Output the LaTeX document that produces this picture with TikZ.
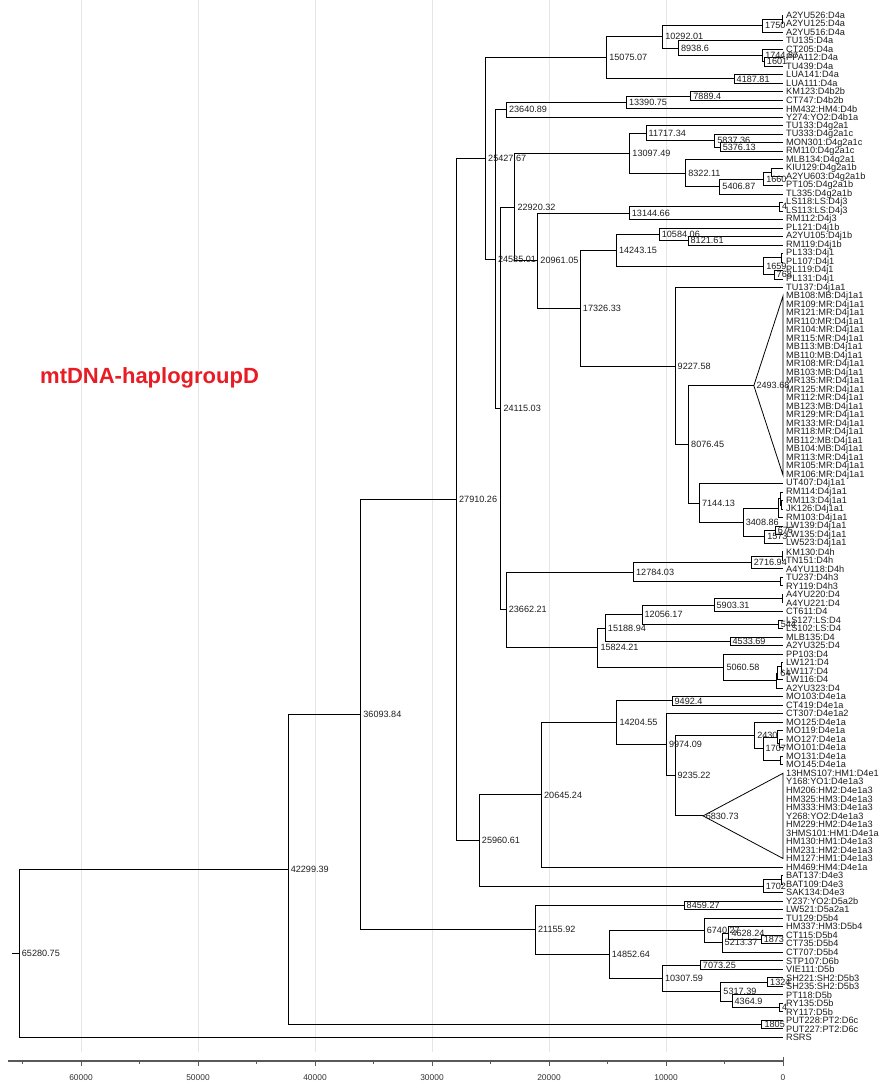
\documentclass[tikz,border=0pt]{standalone}
\usepackage{fontspec}
\setmainfont{Liberation Sans}
\usetikzlibrary{calc}
\definecolor{titlered}{RGB}{232,28,36}
\definecolor{txt}{RGB}{30,30,30}
\tikzset{
  br/.style={draw=black,line width=0.8pt},
  lab/.style={anchor=west,inner sep=1pt,xshift=1.5pt,font=\fontsize{9.1}{9}\selectfont,text=txt},
  leaf/.style={anchor=west,inner sep=1pt,xshift=2pt,font=\fontsize{9.2}{9}\selectfont,text=txt},
  grid/.style={draw=black!10,line width=0.6pt},
  axis/.style={draw=black!65,line width=1.4pt},
  tick/.style={draw=black!65,line width=0.8pt},
  ticklab/.style={font=\fontsize{8.4}{8}\selectfont,text=black!80,inner sep=0pt}
}
% ages are given in thousands
\newcommand\tnd[5]{%
  \path let \p1=(#3), \p2=(#4) in coordinate (#1) at ({783pt-11.7pt*#2},{0.5*\y1+0.5*\y2});
  \draw[br] (#3) -| (#1) |- (#4);
  \node[lab] (#1l) at (#1) {#5};
}
\newcommand\trix[5]{%
  \path let \p1=(#3), \p2=(#4) in coordinate (#1) at ({783pt-11.7pt*#2},{0.5*\y1+0.5*\y2});
  \draw[br] (#1) -- (#3) -- (#4) -- cycle;
  \node[lab] (#1l) at (#1) {#5};
}
\newcommand\lfx[2]{%
  \coordinate (L#1) at (783pt,{-15pt-8.52pt*(#1-1)});
  \node[leaf] (T#1) at (L#1) {#2};
}
\begin{document}
\begin{tikzpicture}
\fill[white] (0pt,0pt) rectangle (883pt,-1089pt);
\useasboundingbox (0pt,0pt) rectangle (883pt,-1089pt);
% grid lines
\foreach \a in {10,20,30,40,50,60}{
  \draw[grid] ({783pt-11.7pt*\a},0pt) -- ({783pt-11.7pt*\a},-1052pt);
}
% axis
\coordinate (ax0) at (783pt,-1061pt);
\coordinate (ax1) at (8pt,-1061pt);
\draw[axis] (ax1) -- (ax0);
\foreach \a/\t in {0/0,10/10000,20/20000,30/30000,40/40000,50/50000,60/60000}{
  \draw[tick] ({783pt-11.7pt*\a},-1061pt) -- ++(0pt,-5pt);
  \node[ticklab] at ({783pt-11.7pt*\a},-1078pt) {\t};
}
\foreach \a in {5,15,25,35,45,55,65}{
  \draw[tick] ({783pt-11.7pt*\a},-1061pt) -- ++(0pt,-3pt);
}
\draw[tick] (ax0) -- ++(0pt,4pt);
% title
\node[anchor=west,inner sep=0pt,text=titlered,font=\fontsize{22}{24}\selectfont\bfseries] (title) at (40pt,-378pt) {mtDNA-haplogroupD};
% leaves
\lfx{1}{A2YU526:D4a}
\lfx{2}{A2YU125:D4a}
\lfx{3}{A2YU516:D4a}
\lfx{4}{TU135:D4a}
\lfx{5}{CT205:D4a}
\lfx{6}{PPA112:D4a}
\lfx{7}{TU439:D4a}
\lfx{8}{LUA141:D4a}
\lfx{9}{LUA111:D4a}
\lfx{10}{KM123:D4b2b}
\lfx{11}{CT747:D4b2b}
\lfx{12}{HM432:HM4:D4b}
\lfx{13}{Y274:YO2:D4b1a}
\lfx{14}{TU133:D4g2a1}
\lfx{15}{TU333:D4g2a1c}
\lfx{16}{MON301:D4g2a1c}
\lfx{17}{RM110:D4g2a1c}
\lfx{18}{MLB134:D4g2a1}
\lfx{19}{KIU129:D4g2a1b}
\lfx{20}{A2YU603:D4g2a1b}
\lfx{21}{PT105:D4g2a1b}
\lfx{22}{TL335:D4g2a1b}
\lfx{23}{LS118:LS:D4j3}
\lfx{24}{LS113:LS:D4j3}
\lfx{25}{RM112:D4j3}
\lfx{26}{PL121:D4j1b}
\lfx{27}{A2YU105:D4j1b}
\lfx{28}{RM119:D4j1b}
\lfx{29}{PL133:D4j1}
\lfx{30}{PL107:D4j1}
\lfx{31}{PL119:D4j1}
\lfx{32}{PL131:D4j1}
\lfx{33}{TU137:D4j1a1}
\lfx{34}{MB108:MB:D4j1a1}
\lfx{35}{MR109:MR:D4j1a1}
\lfx{36}{MR121:MR:D4j1a1}
\lfx{37}{MR110:MR:D4j1a1}
\lfx{38}{MR104:MR:D4j1a1}
\lfx{39}{MR115:MR:D4j1a1}
\lfx{40}{MB113:MB:D4j1a1}
\lfx{41}{MB110:MB:D4j1a1}
\lfx{42}{MR108:MR:D4j1a1}
\lfx{43}{MB103:MB:D4j1a1}
\lfx{44}{MR135:MR:D4j1a1}
\lfx{45}{MR125:MR:D4j1a1}
\lfx{46}{MR112:MR:D4j1a1}
\lfx{47}{MB123:MB:D4j1a1}
\lfx{48}{MR129:MR:D4j1a1}
\lfx{49}{MR133:MR:D4j1a1}
\lfx{50}{MR118:MR:D4j1a1}
\lfx{51}{MB112:MB:D4j1a1}
\lfx{52}{MB104:MB:D4j1a1}
\lfx{53}{MR113:MR:D4j1a1}
\lfx{54}{MR105:MR:D4j1a1}
\lfx{55}{MR106:MR:D4j1a1}
\lfx{56}{UT407:D4j1a1}
\lfx{57}{RM114:D4j1a1}
\lfx{58}{RM113:D4j1a1}
\lfx{59}{JK126:D4j1a1}
\lfx{60}{RM103:D4j1a1}
\lfx{61}{LW139:D4j1a1}
\lfx{62}{LW135:D4j1a1}
\lfx{63}{LW523:D4j1a1}
\lfx{64}{KM130:D4h}
\lfx{65}{TN151:D4h}
\lfx{66}{A4YU118:D4h}
\lfx{67}{TU237:D4h3}
\lfx{68}{RY119:D4h3}
\lfx{69}{A4YU220:D4}
\lfx{70}{A4YU221:D4}
\lfx{71}{CT611:D4}
\lfx{72}{LS127:LS:D4}
\lfx{73}{LS102:LS:D4}
\lfx{74}{MLB135:D4}
\lfx{75}{A2YU325:D4}
\lfx{76}{PP103:D4}
\lfx{77}{LW121:D4}
\lfx{78}{LW117:D4}
\lfx{79}{LW116:D4}
\lfx{80}{A2YU323:D4}
\lfx{81}{MO103:D4e1a}
\lfx{82}{CT419:D4e1a}
\lfx{83}{CT307:D4e1a2}
\lfx{84}{MO125:D4e1a}
\lfx{85}{MO119:D4e1a}
\lfx{86}{MO127:D4e1a}
\lfx{87}{MO101:D4e1a}
\lfx{88}{MO131:D4e1a}
\lfx{89}{MO145:D4e1a}
\lfx{90}{13HMS107:HM1:D4e1}
\lfx{91}{Y168:YO1:D4e1a3}
\lfx{92}{HM206:HM2:D4e1a3}
\lfx{93}{HM325:HM3:D4e1a3}
\lfx{94}{HM333:HM3:D4e1a3}
\lfx{95}{Y268:YO2:D4e1a3}
\lfx{96}{HM229:HM2:D4e1a3}
\lfx{97}{3HMS101:HM1:D4e1a}
\lfx{98}{HM130:HM1:D4e1a3}
\lfx{99}{HM231:HM2:D4e1a3}
\lfx{100}{HM127:HM1:D4e1a3}
\lfx{101}{HM469:HM4:D4e1a}
\lfx{102}{BAT137:D4e3}
\lfx{103}{BAT109:D4e3}
\lfx{104}{SAK134:D4e3}
\lfx{105}{Y237:YO2:D5a2b}
\lfx{106}{LW521:D5a2a1}
\lfx{107}{TU129:D5b4}
\lfx{108}{HM337:HM3:D5b4}
\lfx{109}{CT115:D5b4}
\lfx{110}{CT735:D5b4}
\lfx{111}{CT707:D5b4}
\lfx{112}{STP107:D6b}
\lfx{113}{VIE111:D5b}
\lfx{114}{SH221:SH2:D5b3}
\lfx{115}{SH235:SH2:D5b3}
\lfx{116}{PT118:D5b}
\lfx{117}{RY135:D5b}
\lfx{118}{RY117:D5b}
\lfx{119}{PUT228:PT2:D6c}
\lfx{120}{PUT227:PT2:D6c}
\lfx{121}{RSRS}
% D4a
\tnd{a1}{0.09}{L1}{L2}{}
\tnd{a2}{1.75}{a1}{L3}{1750}
\tnd{a3}{1.601}{L6}{L7}{1601}
\tnd{a4}{1.74487}{L5}{a3}{1744.87}
\tnd{a5}{8.9386}{L4}{a4}{8938.6}
\tnd{a6}{10.29201}{a2}{a5}{10292.01}
\tnd{a7}{4.18781}{L8}{L9}{4187.81}
\tnd{a8}{15.07507}{a6}{a7}{15075.07}
% D4b
\tnd{b1}{7.8894}{L10}{L11}{7889.4}
\tnd{b2}{13.39075}{b1}{L12}{13390.75}
\tnd{b3}{23.64089}{b2}{L13}{23640.89}
% D4g
\tnd{g1}{5.37613}{L16}{L17}{5376.13}
\tnd{g2}{5.83736}{L15}{g1}{5837.36}
\tnd{g3}{11.71734}{L14}{g2}{11717.34}
\tnd{g4}{1.0}{L19}{L20}{}
\tnd{g5}{1.66}{g4}{L21}{1660}
\tnd{g6}{5.40687}{g5}{L22}{5406.87}
\tnd{g7}{8.32211}{L18}{g6}{8322.11}
\tnd{g8}{13.09749}{g3}{g7}{13097.49}
% D4j
\tnd{j1}{0.3}{L23}{L24}{4}
\tnd{j2}{13.14466}{j1}{L25}{13144.66}
\tnd{j3}{8.12161}{L27}{L28}{8121.61}
\tnd{j4}{10.58406}{L26}{j3}{10584.06}
\tnd{j5}{0.15}{L29}{L30}{}
\tnd{j6}{0.768}{L31}{L32}{768}
\tnd{j7}{1.659}{j5}{j6}{1659}
\tnd{j8}{14.24315}{j4}{j7}{14243.15}
\trix{j9}{2.49368}{L34}{L55}{2493.68}
\tnd{r1}{0.15}{L58}{L59}{}
\tnd{r2}{0.25}{L57}{r1}{}
\tnd{r3}{0.4}{r2}{L60}{}
\tnd{w1}{0.676}{L61}{L62}{676}
\tnd{w2}{1.573}{w1}{L63}{1573}
\tnd{k1}{3.40886}{r3}{w2}{3408.86}
\tnd{k2}{7.14413}{L56}{k1}{7144.13}
\tnd{k3}{8.07645}{j9}{k2}{8076.45}
\tnd{k4}{9.22758}{L33}{k3}{9227.58}
\tnd{k5}{17.32633}{j8}{k4}{17326.33}
\tnd{k6}{20.96105}{j2}{k5}{20961.05}
\tnd{k7}{22.92032}{g8}{k6}{22920.32}
% D4h and D4
\tnd{h1}{0.05}{L64}{L65}{}
\tnd{h2}{2.71694}{h1}{L66}{2716.94}
\tnd{h3}{0.25}{L67}{L68}{}
\tnd{h4}{12.78403}{h2}{h3}{12784.03}
\tnd{d1}{0.05}{L69}{L70}{}
\tnd{d2}{5.90331}{d1}{L71}{5903.31}
\tnd{d3}{0.42}{L72}{L73}{544}
\tnd{d4}{12.05617}{d2}{d3}{12056.17}
\tnd{d5}{4.53369}{L74}{L75}{4533.69}
\tnd{d6}{15.18894}{d4}{d5}{15188.94}
\tnd{d7}{0.1}{L77}{L78}{}
\tnd{d8}{0.45}{d7}{L79}{64}
\tnd{d9}{0.55}{d8}{L80}{}
\tnd{d10}{5.06058}{L76}{d9}{5060.58}
\tnd{d11}{15.82421}{d6}{d10}{15824.21}
\tnd{d12}{23.66221}{h4}{d11}{23662.21}
\tnd{m1}{24.11503}{k7}{d12}{24115.03}
\tnd{m2}{24.58501}{b3}{m1}{24585.01}
\tnd{m3}{25.42767}{a8}{m2}{25427.67}
% D4e
\tnd{e1}{9.4924}{L81}{L82}{9492.4}
\tnd{e2}{0.3}{L86}{L87}{}
\tnd{e3}{0.5}{L85}{e2}{}
\tnd{e4}{0.2}{L88}{L89}{}
\tnd{e5}{1.707}{e3}{e4}{1707}
\tnd{e6}{2.43}{L84}{e5}{2430}
\trix{e7}{6.83073}{L90}{L100}{6830.73}
\tnd{e8}{9.23522}{e6}{e7}{9235.22}
\tnd{e9}{9.97409}{L83}{e8}{9974.09}
\tnd{e10}{14.20455}{e1}{e9}{14204.55}
\tnd{e11}{20.64524}{e10}{L101}{20645.24}
\tnd{e12}{0.15}{L102}{L103}{}
\tnd{e13}{1.702}{e12}{L104}{1702}
\tnd{e14}{25.96061}{e11}{e13}{25960.61}
% D5
\tnd{f1}{8.45927}{L105}{L106}{8459.27}
\tnd{f2}{1.873}{L109}{L110}{1873}
\tnd{f3}{4.62824}{L108}{f2}{4628.24}
\tnd{f4}{5.21337}{f3}{L111}{5213.37}
\tnd{f5}{6.74027}{L107}{f4}{6740.27}
\tnd{f6}{7.07325}{L112}{L113}{7073.25}
\tnd{f7}{1.324}{L114}{L115}{1324}
\tnd{f8}{0.3}{L117}{L118}{4}
\tnd{f9}{4.3649}{L116}{f8}{4364.9}
\tnd{f10}{5.31739}{f7}{f9}{5317.39}
\tnd{f11}{10.30759}{f6}{f10}{10307.59}
\tnd{f12}{14.85264}{f5}{f11}{14852.64}
\tnd{f13}{21.15592}{f1}{f12}{21155.92}
\tnd{p1}{1.805}{L119}{L120}{1805}
% top
\tnd{t1}{27.91026}{m3}{e14}{27910.26}
\tnd{t2}{36.09384}{t1}{f13}{36093.84}
\tnd{t3}{42.29939}{t2}{p1}{42299.39}
\tnd{t4}{65.28075}{t3}{L121}{65280.75}
\coordinate (stub) at ([xshift=-7pt]t4);
\draw[br] (stub) -- (t4);
\end{tikzpicture}
\end{document}
